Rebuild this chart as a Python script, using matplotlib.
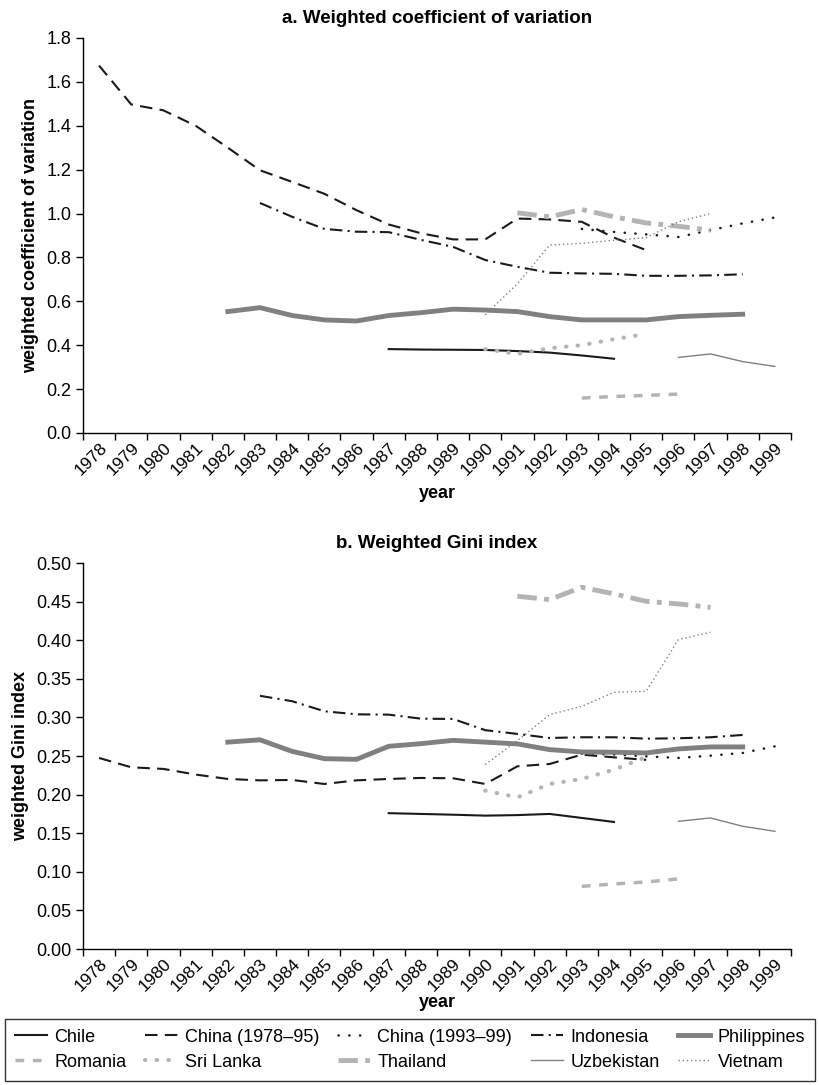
import matplotlib
matplotlib.use('Agg')
from matplotlib import pyplot as plt
from matplotlib.lines import Line2D
import numpy as np

plt.rcParams['font.family'] = ['Liberation Sans', 'DejaVu Sans']

years = list(range(1978, 2000))

countries = ['Chile', 'China (1978\u201395)', 'China (1993\u201399)', 'Indonesia',
             'Philippines', 'Romania', 'Sri Lanka', 'Thailand', 'Uzbekistan',
             'Vietnam']
first_year = [1987, 1978, 1993, 1983, 1982, 1993, 1990, 1991, 1996, 1990]

# a. weighted coefficient of variation
cv_chile = [0.382, 0.380, 0.379, 0.378, 0.373, 0.366, 0.353, 0.338]
cv_china1 = [1.674, 1.497, 1.47, 1.40, 1.30, 1.197, 1.144, 1.09, 1.015, 0.95,
             0.91, 0.882, 0.882, 0.977, 0.973, 0.962, 0.89, 0.833]
cv_china2 = [0.93, 0.916, 0.905, 0.893, 0.924, 0.955, 0.982]
cv_indonesia = [1.048, 0.985, 0.93, 0.917, 0.915, 0.88, 0.848, 0.788, 0.757,
                0.73, 0.727, 0.725, 0.716, 0.716, 0.718, 0.723]
cv_philippines = [0.553, 0.571, 0.535, 0.515, 0.51, 0.535, 0.548, 0.564, 0.56,
                  0.553, 0.53, 0.515, 0.515, 0.515, 0.53, 0.536, 0.541]
cv_romania = [0.159, 0.166, 0.171, 0.177]
cv_srilanka = [0.382, 0.36, 0.386, 0.40, 0.427, 0.451]
cv_thailand = [1.003, 0.985, 1.018, 0.985, 0.957, 0.942, 0.924]
cv_uzbekistan = [0.344, 0.36, 0.325, 0.303]
cv_vietnam = [0.538, 0.68, 0.856, 0.864, 0.878, 0.89, 0.962, 1.0]

# b. weighted Gini index
gini_chile = [0.176, 0.175, 0.174, 0.1728, 0.1735, 0.175, 0.1698, 0.1646]
gini_china1 = [0.2475, 0.2354, 0.2333, 0.226, 0.2203, 0.2185, 0.219, 0.2138,
               0.2185, 0.2203, 0.2216, 0.2212, 0.2138, 0.2367, 0.2397, 0.2518,
               0.2483, 0.245]
gini_china2 = [0.253, 0.252, 0.2496, 0.2475, 0.2505, 0.254, 0.2626]
gini_indonesia = [0.328, 0.321, 0.308, 0.304, 0.3036, 0.2984, 0.298, 0.2835,
                  0.2786, 0.2734, 0.2743, 0.2743, 0.2725, 0.273, 0.2743, 0.2773]
gini_philippines = [0.268, 0.271, 0.256, 0.2466, 0.2457, 0.2626, 0.266, 0.2703,
                    0.268, 0.2657, 0.2583, 0.2553, 0.2549, 0.254, 0.2592,
                    0.2618, 0.2618]
gini_romania = [0.0812, 0.0843, 0.0869, 0.0908]
gini_srilanka = [0.2052, 0.1965, 0.2138, 0.2203, 0.2324, 0.2488]
gini_thailand = [0.4569, 0.4526, 0.4686, 0.46, 0.4504, 0.447, 0.4426]
gini_uzbekistan = [0.1654, 0.1698, 0.159, 0.1525]
gini_vietnam = [0.2389, 0.27, 0.3036, 0.3144, 0.3325, 0.3338, 0.4008, 0.4103]

cv_series = [cv_chile, cv_china1, cv_china2, cv_indonesia, cv_philippines,
             cv_romania, cv_srilanka, cv_thailand, cv_uzbekistan, cv_vietnam]
gini_series = [gini_chile, gini_china1, gini_china2, gini_indonesia,
               gini_philippines, gini_romania, gini_srilanka, gini_thailand,
               gini_uzbekistan, gini_vietnam]

dark = '#1a1a1a'
mid = '#808080'
light = '#b4b4b4'
styles = [
    dict(color=dark, lw=1.5, ls='-'),
    dict(color=dark, lw=1.5, ls=(0, (6, 3.5))),
    dict(color=dark, lw=1.8, ls=(0, (0.1, 4.2)), dash_capstyle='round'),
    dict(color=dark, lw=1.5, ls=(0, (6, 2.5, 1, 2.5))),
    dict(color=mid, lw=3.5, ls='-'),
    dict(color=light, lw=2.5, ls=(0, (2.5, 2.5))),
    dict(color=light, lw=3.0, ls=(0, (0.1, 2.7)), dash_capstyle='round'),
    dict(color=light, lw=3.5, ls=(0, (4, 1.5, 1, 1.5))),
    dict(color=mid, lw=1.0, ls='-'),
    dict(color=mid, lw=1.0, ls=(0, (1, 2))),
]

fig = plt.figure(figsize=(8.2, 10.85), dpi=100)
ax1 = fig.add_axes([0.1012, 0.601, 0.8634, 0.364])
ax2 = fig.add_axes([0.1012, 0.1253, 0.8634, 0.3558])


def draw(ax, series, ymax, step, fmt, title, ylabel, xpad):
    for vals, y0, st in zip(series, first_year, styles):
        x = [years.index(y0) + k for k in range(len(vals))]
        ax.plot(x, vals, **st)
    ax.set_xlim(-0.5, len(years) - 0.5)
    ax.set_ylim(0, ymax)
    ax.set_yticks(np.arange(0, ymax + step / 2, step))
    ax.set_yticklabels([fmt.format(v) for v in np.arange(0, ymax + step / 2, step)])
    ax.set_xticks(np.arange(-0.5, len(years), 1.0))
    ax.set_xticklabels([])
    ax.set_xticks(range(len(years)), minor=True)
    ax.set_xticklabels([str(y) for y in years], minor=True, rotation=45,
                       ha='right', va='top', rotation_mode='anchor')
    ax.tick_params(axis='x', which='minor', length=0, pad=5, labelsize=12.5)
    ax.tick_params(axis='x', which='major', length=5, width=1)
    ax.tick_params(axis='y', length=5, width=1, labelsize=13)
    for s in ['top', 'right']:
        ax.spines[s].set_visible(False)
    for s in ['left', 'bottom']:
        ax.spines[s].set_linewidth(1.0)
    ax.set_title(title, fontsize=13.5, fontweight='bold', pad=11)
    ax.set_xlabel('year', fontsize=13, fontweight='bold', labelpad=xpad)
    ax.set_ylabel(ylabel, fontsize=13, fontweight='bold', labelpad=5)


draw(ax1, cv_series, 1.8, 0.2, '{:.1f}', 'a. Weighted coefficient of variation',
     'weighted coefficient of variation', 5)
draw(ax2, gini_series, 0.5, 0.05, '{:.2f}', 'b. Weighted Gini index',
     'weighted Gini index', 0)

handles = [Line2D([], [], **st) for st in styles]
order = [0, 5, 1, 6, 2, 7, 3, 8, 4, 9]
leg = fig.legend([handles[i] for i in order], [countries[i] for i in order],
                 loc='lower left', bbox_to_anchor=(0.006, 0.004, 0.988, 0.058),
                 mode='expand', ncol=5,
                 fontsize=13, frameon=True, fancybox=False, edgecolor='black',
                 handlelength=1.8, handletextpad=0.4, columnspacing=0.8,
                 labelspacing=0.45, borderpad=0.55, borderaxespad=0)
leg.get_frame().set_linewidth(1.0)

fig.savefig('out.png', dpi=100)
